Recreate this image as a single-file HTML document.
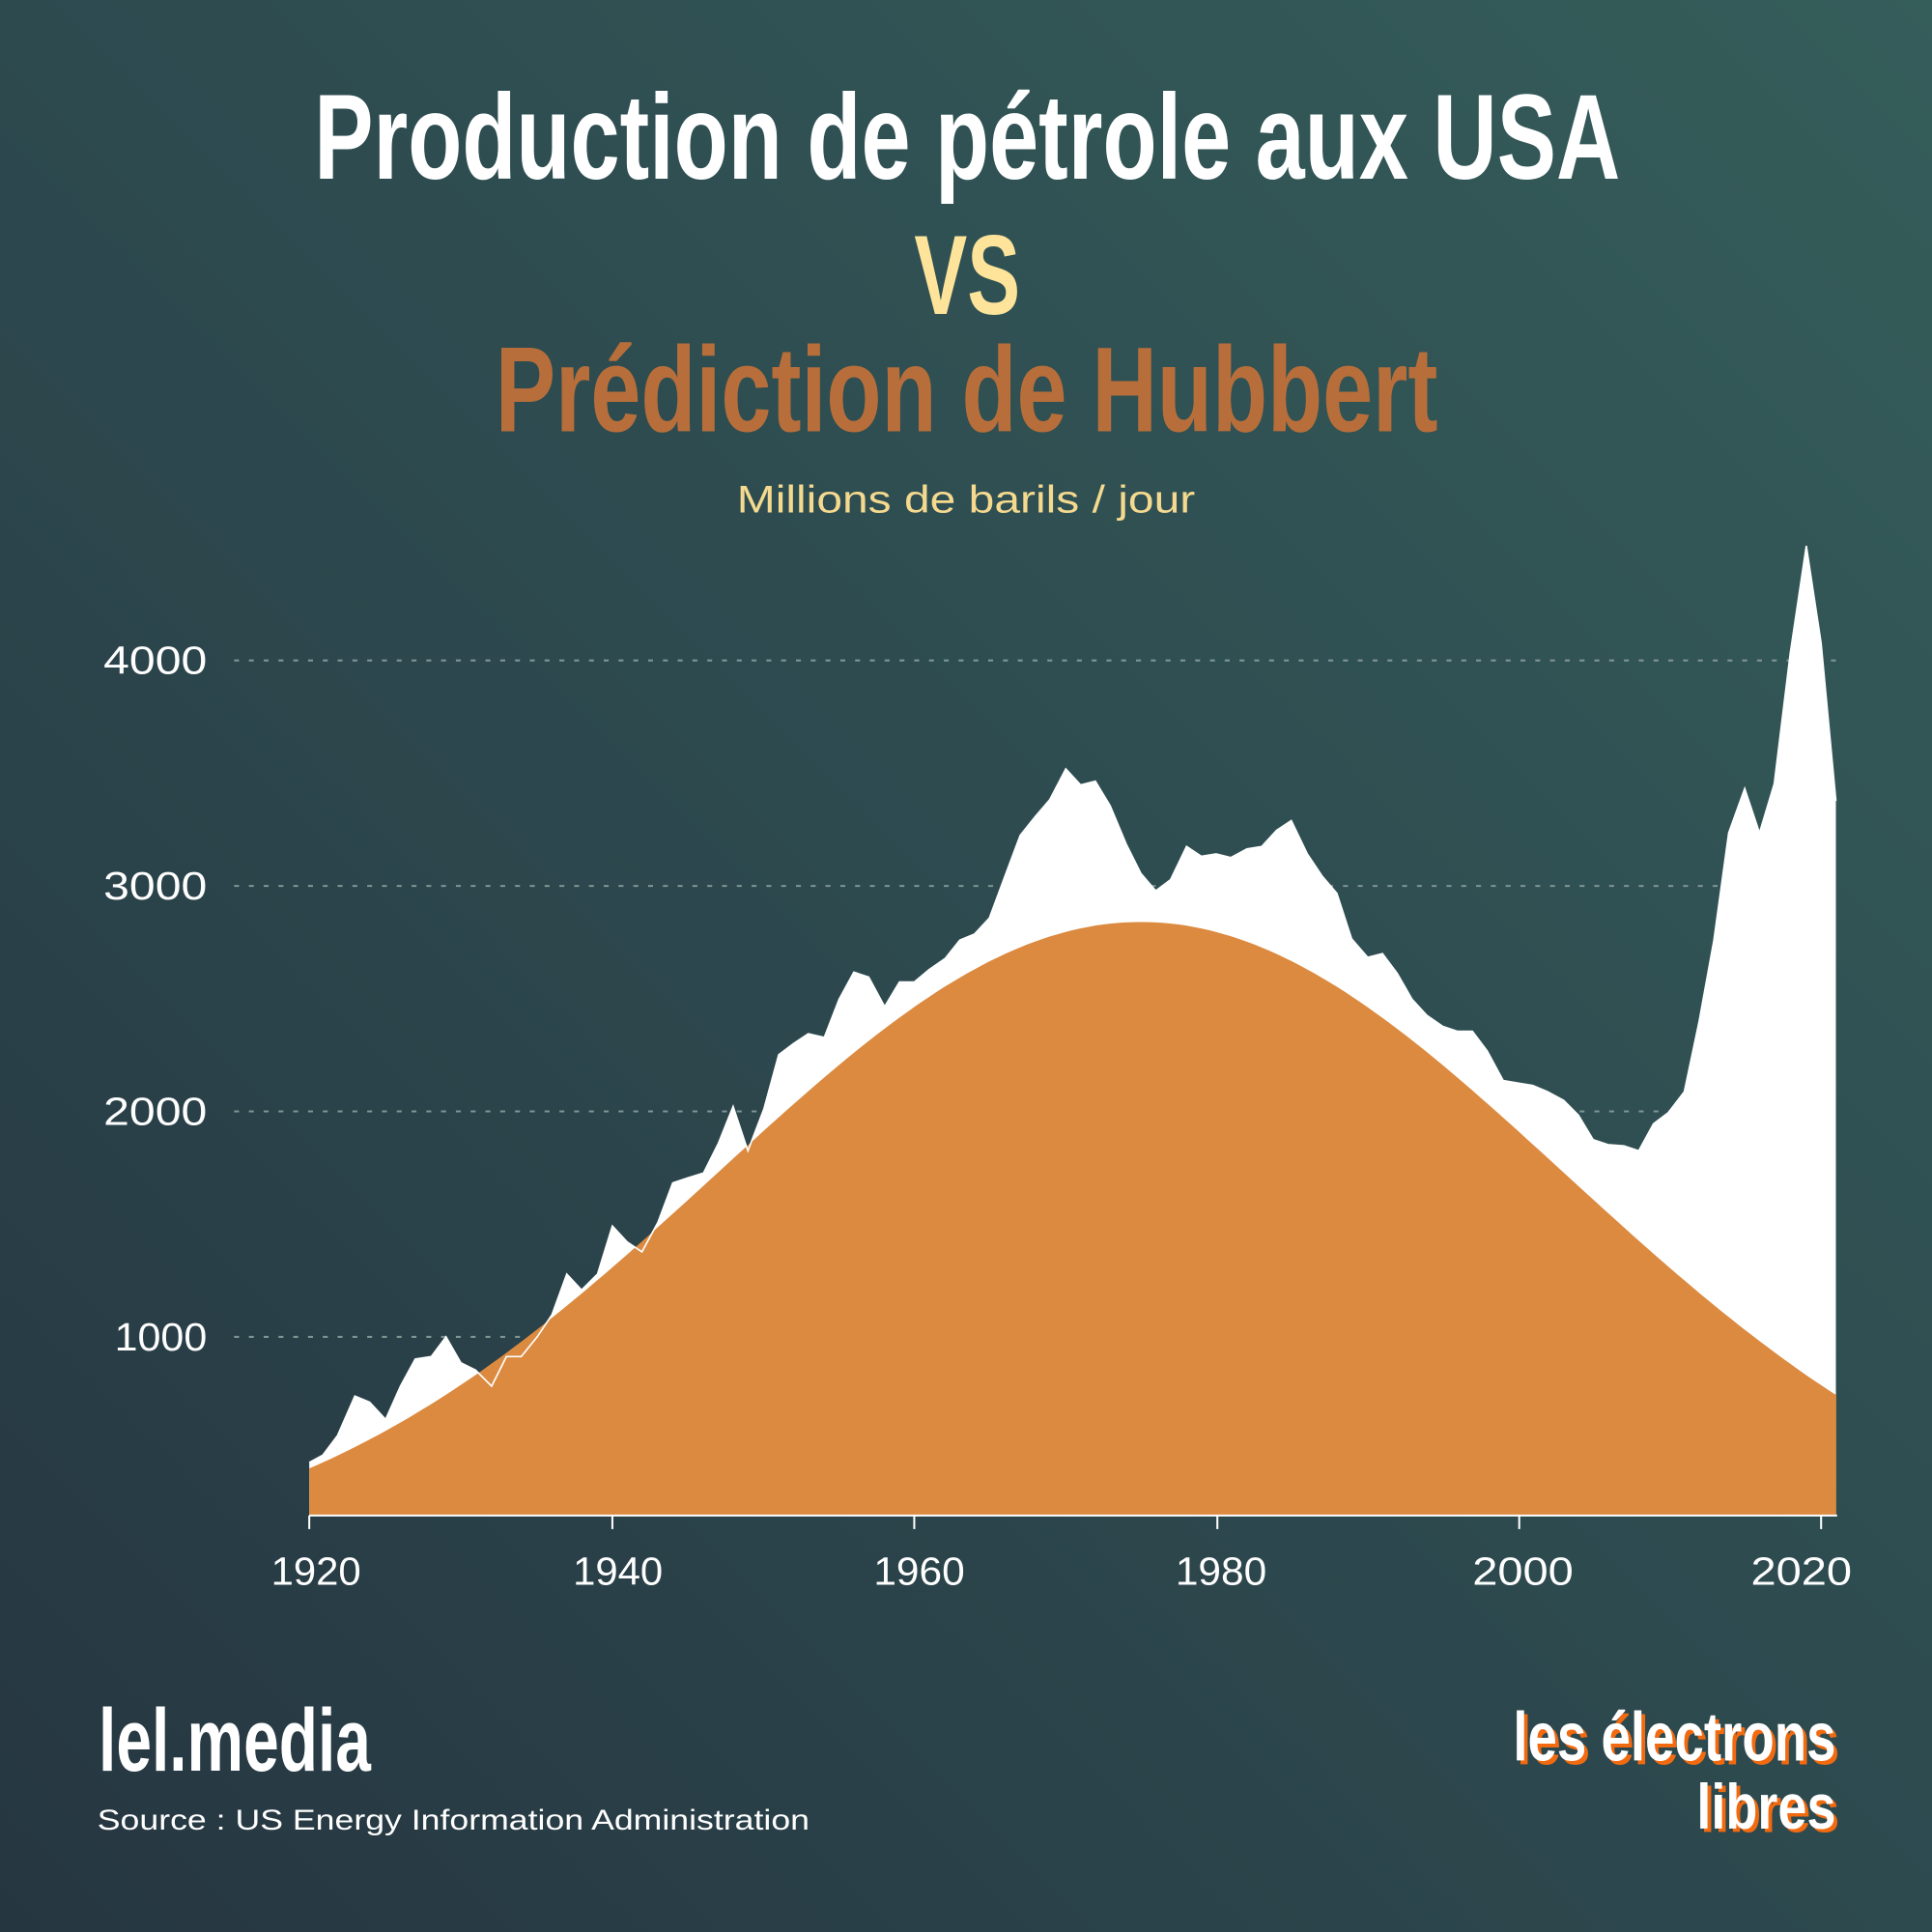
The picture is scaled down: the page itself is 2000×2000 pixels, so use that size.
<!DOCTYPE html>
<html><head><meta charset="utf-8"><style>
html,body{margin:0;padding:0;width:2000px;height:2000px;overflow:hidden}
body{background:linear-gradient(225deg,#355d5a 0%,#2d4a4f 50%,#263641 100%)}
svg{position:absolute;left:0;top:0}
</style></head><body>
<svg width="2000" height="2000" viewBox="0 0 1568 1568" xmlns="http://www.w3.org/2000/svg">
<g font-family="Liberation Sans Narrow, Liberation Sans, sans-serif" font-weight="bold" text-anchor="start">
<text x="255" y="145" font-size="98" fill="#fff" textLength="1060" lengthAdjust="spacingAndGlyphs">Production de pétrole aux USA</text>
<text x="742" y="255" font-size="92" fill="#fde49a" textLength="86" lengthAdjust="spacingAndGlyphs">VS</text>
<text x="402" y="350" font-size="98" fill="#b86e3a" textLength="765" lengthAdjust="spacingAndGlyphs">Prédiction de Hubbert</text>
<text x="80" y="1437" font-size="72" fill="#fff" textLength="221" lengthAdjust="spacingAndGlyphs">lel.media</text>
</g>
<text x="598" y="416" font-family="Liberation Sans, sans-serif" font-size="31" fill="#f5d98f" textLength="372" lengthAdjust="spacingAndGlyphs">Millions de barils / jour</text>
<text x="79" y="1485" font-family="Liberation Sans, sans-serif" font-size="23" fill="#fff" textLength="578" lengthAdjust="spacingAndGlyphs">Source :  US Energy Information Administration</text>

<g stroke="#7f9594" stroke-width="1.6" stroke-dasharray="4 8">
<line x1="190" y1="536" x2="1492" y2="536"/><line x1="190" y1="719" x2="1492" y2="719"/>
<line x1="190" y1="902" x2="1492" y2="902"/><line x1="190" y1="1085" x2="1492" y2="1085"/>
</g>
<g font-family="Liberation Sans, sans-serif" font-size="32" fill="#fff">
<text x="84" y="547" textLength="84" lengthAdjust="spacingAndGlyphs">4000</text>
<text x="84" y="730" textLength="84" lengthAdjust="spacingAndGlyphs">3000</text>
<text x="84" y="913" textLength="84" lengthAdjust="spacingAndGlyphs">2000</text>
<text x="93" y="1096" textLength="75" lengthAdjust="spacingAndGlyphs">1000</text>
</g>
<path id="prod" fill="#fff" d=""/>
<path id="hub" fill="#db8a40" d=""/>
<polyline id="prodline" fill="none" stroke="#fff" stroke-width="1.3" points=""/>
<g stroke="#fff" stroke-width="1.6">
<line x1="251" y1="1230" x2="1491" y2="1230"/>
<line x1="251" y1="1230" x2="251" y2="1241"/><line x1="497" y1="1230" x2="497" y2="1241"/>
<line x1="742" y1="1230" x2="742" y2="1241"/><line x1="988" y1="1230" x2="988" y2="1241"/>
<line x1="1233" y1="1230" x2="1233" y2="1241"/><line x1="1478" y1="1230" x2="1478" y2="1241"/>
</g>
<g font-family="Liberation Sans, sans-serif" font-size="32" fill="#fff">
<text x="220" y="1286" textLength="73" lengthAdjust="spacingAndGlyphs">1920</text>
<text x="465" y="1286" textLength="73" lengthAdjust="spacingAndGlyphs">1940</text>
<text x="709" y="1286" textLength="74" lengthAdjust="spacingAndGlyphs">1960</text>
<text x="954" y="1286" textLength="74" lengthAdjust="spacingAndGlyphs">1980</text>
<text x="1195" y="1286" textLength="82" lengthAdjust="spacingAndGlyphs">2000</text>
<text x="1421" y="1286" textLength="82" lengthAdjust="spacingAndGlyphs">2020</text>
</g>
<g font-family="Liberation Sans, sans-serif" font-weight="bold">
<text x="1231" y="1432" font-size="56" fill="#f26a10" textLength="262" lengthAdjust="spacingAndGlyphs">les électrons</text>
<text x="1228" y="1429" font-size="56" fill="#fff" textLength="262" lengthAdjust="spacingAndGlyphs">les électrons</text>
<text x="1380" y="1487" font-size="52" fill="#f26a10" textLength="113" lengthAdjust="spacingAndGlyphs">libres</text>
<text x="1377" y="1484" font-size="52" fill="#fff" textLength="113" lengthAdjust="spacingAndGlyphs">libres</text>
</g>
</svg>
<script>
var P=[[251,1187],[262,1181],[274,1165],[288,1133],[300,1138],[313,1152],[325,1125],[337,1103],[350,1101],[362,1085],[374,1106],[386,1112],[399,1125],[411,1101],[423,1101],[436,1085],[448,1067],[460,1034],[472,1047],[485,1034],[497,995],[509,1008],[521,1016],[534,992],[546,960],[558,956],[571,952],[583,928],[595,898],[607,934],[620,900],[632,856],[644,847],[656,839],[669,842],[681,811],[693,789],[705,793],[718,817],[730,797],[742,797],[754,787],[767,778],[779,763],[791,758],[803,745],[816,710],[828,678],[840,663],[852,649],[865,624],[877,637],[889,634],[901,654],[914,685],[926,709],[938,723],[950,714],[963,687],[975,695],[987,693],[999,696],[1012,689],[1024,687],[1036,674],[1048,666],[1061,693],[1073,711],[1085,725],[1097,762],[1110,777],[1122,774],[1134,790],[1146,811],[1158,824],[1171,833],[1183,837],[1195,837],[1207,853],[1220,877],[1232,879],[1244,881],[1256,886],[1269,893],[1281,905],[1293,925],[1305,929],[1318,930],[1330,934],[1342,912],[1354,903],[1367,886],[1379,829],[1391,763],[1403,676],[1416,640],[1428,676],[1440,636],[1453,530],[1466,443],[1478,522],[1490,650]];
var s=P.map(function(p){return p.join(',')}).join(' ');
document.getElementById('prod').setAttribute('d','M251,1230 L'+s.replace(/ /g,' L')+' L1490,1230 Z');
document.getElementById('prodline').setAttribute('points',s);
var h='M251,1230';
for(var t=1920;t<=2021.01;t+=0.5){var v=2840*Math.exp(-Math.pow(t-1975,2)/(2*788));var x=251+(t-1920)*12.27;var y=1085-(v-1000)*0.183;h+=' L'+x.toFixed(1)+','+y.toFixed(1);}
h+=' L'+(251+101*12.27).toFixed(1)+',1230 Z';
document.getElementById('hub').setAttribute('d',h);
</script>
</body></html>
